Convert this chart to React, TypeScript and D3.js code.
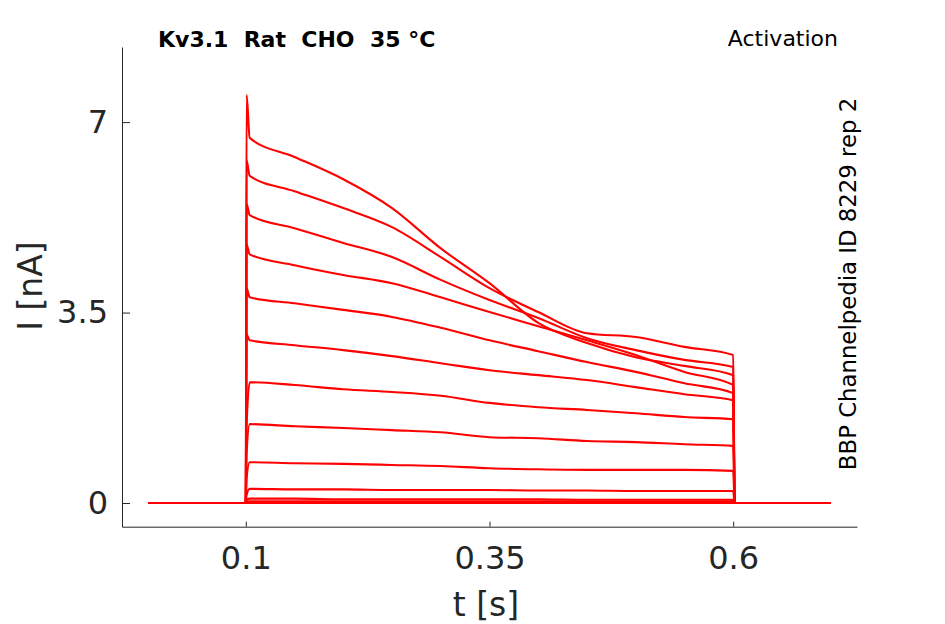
import { useEffect, useRef } from 'react';
import * as d3 from 'd3';

// sample times (s) of the read-off points during the voltage step
const stepTimes = [0.104, 0.15, 0.2, 0.25, 0.3, 0.35, 0.4, 0.45, 0.5, 0.55, 0.6];

// current (nA) of each sweep at stepTimes
const sweepA = [6.71, 6.36, 5.95, 5.42, 4.68, 4.04, 3.31, 2.94, 2.68, 2.52, 2.35];
const sweepB = [6.01, 5.73, 5.42, 5.07, 4.52, 3.95, 3.51, 3.12, 3.05, 2.87, 2.72];
const sweepC = [5.29, 5.05, 4.78, 4.52, 4.10, 3.73, 3.40, 3.03, 2.81, 2.63, 2.50];
const sweepD = [4.57, 4.37, 4.19, 4.04, 3.78, 3.51, 3.25, 2.99, 2.72, 2.41, 2.17];
const sweepE = [3.78, 3.67, 3.55, 3.42, 3.22, 2.99, 2.79, 2.59, 2.41, 2.20, 2.02];
const sweepF = [2.99, 2.90, 2.81, 2.70, 2.57, 2.44, 2.35, 2.26, 2.13, 2.00, 1.89];
const sweepG = [2.22, 2.17, 2.09, 2.04, 1.97, 1.84, 1.76, 1.71, 1.65, 1.58, 1.54];
const sweepH = [1.45, 1.41, 1.38, 1.34, 1.30, 1.21, 1.19, 1.14, 1.12, 1.08, 1.05];
const sweepI = [0.75, 0.73, 0.72, 0.70, 0.68, 0.64, 0.62, 0.61, 0.61, 0.61, 0.59];
const sweepJ = [0.26, 0.25, 0.25, 0.24, 0.24, 0.24, 0.23, 0.23, 0.22, 0.22, 0.22];
const sweepK = [0.08, 0.08, 0.07, 0.07, 0.07, 0.07, 0.07, 0.06, 0.06, 0.06, 0.06];
const sweepL = [0.03, 0.03, 0.03, 0.03, 0.03, 0.03, 0.03, 0.03, 0.03, 0.03, 0.03];
const sweepM = [0.01, 0.01, 0.01, 0.01, 0.01, 0.01, 0.01, 0.01, 0.01, 0.01, 0.01];
const sweepN = [0, 0, 0, 0, 0, 0, 0, 0, 0, 0, 0];

const sweeps = [sweepA, sweepB, sweepC, sweepD, sweepE, sweepF, sweepG, sweepH, sweepI, sweepJ, sweepK, sweepL, sweepM, sweepN];

// onset transient peak of each sweep (nA)
const onsetPeaks = [7.5, 6.3, 5.5, 4.75, 3.95, 3.1, 1.4, 0.9, 0.45, 0.15, 0.05, 0.02, 0.01, 0];

const stepStart = 0.1;
const stepEnd = 0.6;
const recordEnd = 0.7;

const xTicks = [0.1, 0.35, 0.6];
const yTicks = [0, 3.5, 7];

export default function App() {
  const svgRef = useRef<SVGSVGElement>(null);

  useEffect(() => {
    if (!svgRef.current) return;
    const svg = d3.select(svgRef.current);
    svg.selectAll('*').remove();

    const width = 945;
    const height = 624;
    const font = 'DejaVu Sans, sans-serif';
    const ink = '#262626';

    svg.attr('width', width).attr('height', height);

    const x = d3.scaleLinear().domain([-0.027, 0.727]).range([122, 857]);
    const y = d3.scaleLinear().domain([-0.435, 8.38]).range([526.7, 47]);

    const line = d3.line<[number, number]>()
      .x(d => x(d[0]))
      .y(d => y(d[1]))
      .curve(d3.curveMonotoneX);

    const traces = svg.append('g');
    sweeps.forEach((s, i) => {
      const pts: [number, number][] = [
        [0, 0],
        [stepStart, 0],
        [stepStart + 0.0008, onsetPeaks[i]],
        ...stepTimes.map((t, k) => [t, s[k]] as [number, number]),
        [stepEnd + 0.0015, 0],
        [recordEnd, 0],
      ];
      traces.append('path')
        .attr('d', line(pts))
        .attr('fill', 'none')
        .attr('stroke', '#ff0000')
        .attr('stroke-width', 2.1)
        .attr('stroke-linejoin', 'round');
    });

    // X 축
    const gx = svg.append('g')
      .attr('transform', `translate(0,${526.7})`)
      .call(d3.axisBottom(x).tickValues(xTicks).tickFormat(d => String(d))
        .tickSizeInner(-5).tickSizeOuter(0).tickPadding(20));
    gx.select('.domain').attr('stroke', ink);
    gx.selectAll('line').attr('stroke', ink);
    gx.selectAll('text')
      .attr('fill', ink)
      .attr('font-family', font)
      .attr('font-size', '32px');

    // Y 축
    const gy = svg.append('g')
      .attr('transform', `translate(${122},0)`)
      .call(d3.axisLeft(y).tickValues(yTicks).tickFormat(d => String(d))
        .tickSizeInner(-8).tickSizeOuter(0).tickPadding(14));
    gy.select('.domain').attr('stroke', ink);
    gy.selectAll('line').attr('stroke', ink);
    gy.selectAll('text')
      .attr('fill', ink)
      .attr('font-family', font)
      .attr('font-size', '32px');

    // axis labels
    svg.append('text')
      .attr('x', 486)
      .attr('y', 616)
      .attr('text-anchor', 'middle')
      .attr('fill', ink)
      .attr('font-family', font)
      .attr('font-size', '33px')
      .text('t [s]');

    svg.append('text')
      .attr('transform', 'translate(42,286) rotate(-90)')
      .attr('text-anchor', 'middle')
      .attr('fill', ink)
      .attr('font-family', font)
      .attr('font-size', '33px')
      .text('I [nA]');

    // title and notes
    svg.append('text')
      .attr('x', 158)
      .attr('y', 47)
      .attr('fill', '#000')
      .attr('font-family', font)
      .attr('font-size', '22px')
      .attr('font-weight', 'bold')
      .style('white-space', 'pre')
      .text('Kv3.1  Rat  CHO  35 °C');

    svg.append('text')
      .attr('x', 838)
      .attr('y', 46)
      .attr('text-anchor', 'end')
      .attr('fill', '#000')
      .attr('font-family', font)
      .attr('font-size', '22px')
      .text('Activation');

    svg.append('text')
      .attr('transform', 'translate(856,284) rotate(-90)')
      .attr('text-anchor', 'middle')
      .attr('fill', '#000')
      .attr('font-family', font)
      .attr('font-size', '22.8px')
      .text('BBP Channelpedia ID 8229 rep 2');
  }, []);

  return (
    <svg ref={svgRef} style={{ position: 'absolute', left: 0, top: 0, background: 'white' }}></svg>
  );
}
